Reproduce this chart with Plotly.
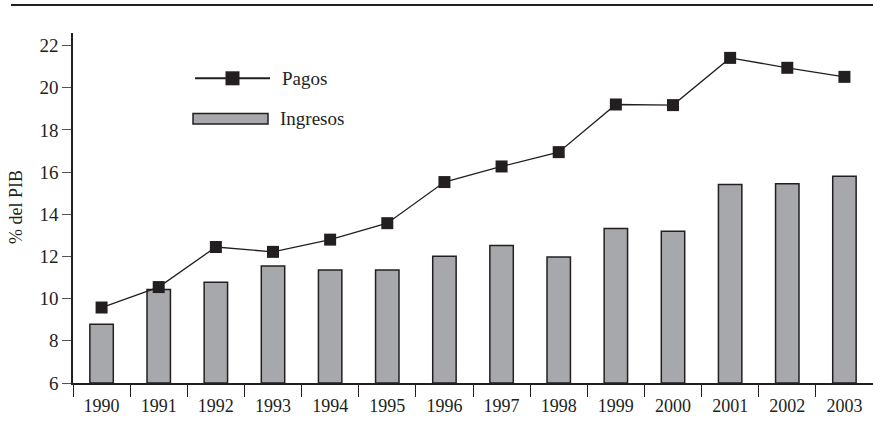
import plotly.graph_objects as go

years = ["1990", "1991", "1992", "1993", "1994", "1995", "1996", "1997",
         "1998", "1999", "2000", "2001", "2002", "2003"]
pagos = [9.58, 10.55, 12.45, 12.22, 12.8, 13.58, 15.53, 16.27,
         16.95, 19.21, 19.18, 21.42, 20.95, 20.52]
ingresos = [8.79, 10.43, 10.78, 11.55, 11.36, 11.36, 12.01, 12.52,
            11.98, 13.33, 13.2, 15.42, 15.45, 15.8]

DARK = "#231f20"
GREY = "#a7a8ab"
FONT = "Liberation Serif"

fig = go.Figure()
fig.add_trace(go.Bar(
    x=years, y=[v - 6 for v in ingresos], base=6, name="Ingresos",
    marker=dict(color=GREY, line=dict(color=DARK, width=1.5)),
    width=0.41, showlegend=False,
))
fig.add_trace(go.Scatter(
    x=years, y=pagos, name="Pagos", mode="lines+markers",
    line=dict(color=DARK, width=1.3),
    marker=dict(symbol="square", size=12, color=DARK),
    showlegend=False,
))

W, H = 873, 443
L, R, T, B = 73, 0, 33, 60
pw, ph = W - L - R, H - T - B

def px(x):
    return (x - L) / pw

def py(y):
    return (H - B - y) / ph

shapes = [
    # top rule
    dict(type="line", xref="paper", yref="paper", x0=px(11), x1=px(873),
         y0=py(5), y1=py(5), line=dict(color=DARK, width=2)),
    # legend line
    dict(type="line", xref="paper", yref="paper", x0=px(195), x1=px(270),
         y0=py(78.3), y1=py(78.3), line=dict(color=DARK, width=2)),
    dict(type="rect", xref="paper", yref="paper", x0=px(225.5), x1=px(239.5),
         y0=py(71.3), y1=py(85.3), fillcolor=DARK, line=dict(color=DARK, width=0)),
    # legend bar
    dict(type="rect", xref="paper", yref="paper", x0=px(193), x1=px(268),
         y0=py(113.5), y1=py(124), fillcolor=GREY, line=dict(color=DARK, width=1.5)),
]
annotations = [
    dict(text="Pagos", xref="paper", yref="paper", x=px(280), y=py(78),
         xanchor="left", yanchor="middle", showarrow=False,
         font=dict(family=FONT, size=19, color=DARK)),
    dict(text="Ingresos", xref="paper", yref="paper", x=px(278), y=py(119),
         xanchor="left", yanchor="middle", showarrow=False,
         font=dict(family=FONT, size=19, color=DARK)),
    dict(text="% del PIB", xref="paper", yref="paper", x=px(16), y=py(207),
         xanchor="center", yanchor="middle", showarrow=False, textangle=-90,
         font=dict(family=FONT, size=18, color=DARK)),
]

fig.update_layout(
    width=W, height=H,
    margin=dict(l=L, r=R, t=T, b=B),
    paper_bgcolor="white", plot_bgcolor="white",
    font=dict(family=FONT, size=18, color=DARK),
    shapes=shapes, annotations=annotations,
    bargap=0.59,
)
fig.update_xaxes(
    type="category", range=[-0.5, 13.5],
    showline=True, linecolor=DARK, linewidth=1.5,
    ticks="outside", tickson="boundaries", ticklen=12, tickcolor=DARK, tickwidth=1.3,
    ticklabelstandoff=6,
    showgrid=False, tickfont=dict(family=FONT, size=18, color=DARK),
)
fig.update_yaxes(
    range=[6, 22.6], tickvals=[6, 8, 10, 12, 14, 16, 18, 20, 22],
    showline=True, linecolor=DARK, linewidth=1.5,
    ticks="outside", ticklen=9, tickcolor="#555", tickwidth=1.3,
    showgrid=False, zeroline=False,
    tickfont=dict(family=FONT, size=19, color=DARK),
)

fig.write_html("out.html", config={"displayModeBar": False},
               post_script="document.body.style.margin='0';")
